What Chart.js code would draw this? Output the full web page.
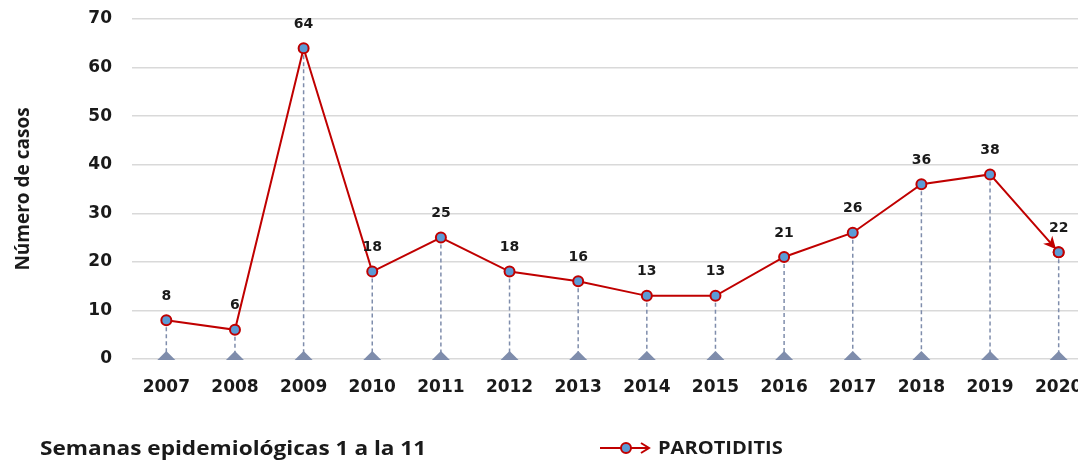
<!DOCTYPE html>
<html lang="es">
<head>
<meta charset="UTF-8">
<title>Parotiditis</title>
<style>
    html, body { margin: 0; padding: 0; background: #fff; overflow: hidden; }
    .wrap { position: relative; width: 1100px; height: 462px; }
    .note {
        position: absolute; left: 40px; top: 435px;
        font-family: "Open Sans", sans-serif; font-weight: bold; font-size: 19px;
        color: #1a1a1a; white-space: nowrap;
        transform: scaleX(1.19); transform-origin: left top;
    }
</style>
</head>
<body>
<div class="wrap">
    <canvas id="chart" width="1100" height="462"></canvas>
    <div class="note">Semanas epidemiológicas 1 a la 11</div>
</div>
<script src="https://cdn.jsdelivr.net/npm/chart.js"></script>
<script>
    const years = ['2007', '2008', '2009', '2010', '2011', '2012', '2013', '2014', '2015', '2016', '2017', '2018', '2019', '2020'];
    const cases = [8, 6, 64, 18, 25, 18, 16, 13, 13, 21, 26, 36, 38, 22];
    const seriesName = 'PAROTIDITIS';

    const red = '#c00000';
    const blue = '#5b9bd5';
    const dropColor = '#7f8dac';

    // drop lines, base markers, value labels, arrow and legend
    const extras = {
        id: 'extras',
        beforeDatasetsDraw(chart) {
            const ctx = chart.ctx;
            const x = chart.scales.x, y = chart.scales.y;
            const base = y.getPixelForValue(0);
            ctx.save();
            ctx.strokeStyle = dropColor;
            ctx.lineWidth = 1.5;
            ctx.setLineDash([4, 3]);
            cases.forEach((v, i) => {
                const px = x.getPixelForValue(i);
                ctx.beginPath();
                ctx.moveTo(px, y.getPixelForValue(v));
                ctx.lineTo(px, base);
                ctx.stroke();
            });
            ctx.setLineDash([]);
            ctx.fillStyle = dropColor;
            cases.forEach((v, i) => {
                const px = x.getPixelForValue(i);
                ctx.beginPath();
                ctx.moveTo(px - 9, base + 1);
                ctx.lineTo(px, base - 8);
                ctx.lineTo(px + 9, base + 1);
                ctx.closePath();
                ctx.fill();
            });
            ctx.restore();
        },
        afterDatasetsDraw(chart) {
            const ctx = chart.ctx;
            const x = chart.scales.x, y = chart.scales.y;
            ctx.save();
            // arrow head into last point
            const n = cases.length;
            const x1 = x.getPixelForValue(n - 2), y1 = y.getPixelForValue(cases[n - 2]);
            const x2 = x.getPixelForValue(n - 1), y2 = y.getPixelForValue(cases[n - 1]);
            const a = Math.atan2(y2 - y1, x2 - x1);
            const tipX = x2 - Math.cos(a) * 4, tipY = y2 - Math.sin(a) * 4;
            ctx.fillStyle = red;
            ctx.beginPath();
            ctx.moveTo(tipX, tipY);
            ctx.lineTo(tipX - Math.cos(a - 0.45) * 14, tipY - Math.sin(a - 0.45) * 14);
            ctx.lineTo(tipX - Math.cos(a) * 9, tipY - Math.sin(a) * 9);
            ctx.lineTo(tipX - Math.cos(a + 0.45) * 14, tipY - Math.sin(a + 0.45) * 14);
            ctx.closePath();
            ctx.fill();
            // redraw last point on top
            ctx.beginPath();
            ctx.arc(x2, y2, 5, 0, Math.PI * 2);
            ctx.fillStyle = blue;
            ctx.fill();
            ctx.lineWidth = 2;
            ctx.strokeStyle = red;
            ctx.stroke();

            // value labels
            ctx.fillStyle = '#1a1a1a';
            ctx.font = 'bold 14px "DejaVu Sans"';
            ctx.textAlign = 'center';
            ctx.textBaseline = 'middle';
            cases.forEach((v, i) => {
                ctx.fillText(String(v), x.getPixelForValue(i), y.getPixelForValue(v) - 24);
            });

            // legend
            const ly = 448;
            ctx.strokeStyle = red;
            ctx.lineWidth = 2;
            ctx.beginPath();
            ctx.moveTo(600, ly);
            ctx.lineTo(648, ly);
            ctx.stroke();
            ctx.beginPath();
            ctx.moveTo(641, ly - 5);
            ctx.lineTo(649, ly);
            ctx.lineTo(641, ly + 5);
            ctx.stroke();
            ctx.beginPath();
            ctx.arc(626, ly, 5, 0, Math.PI * 2);
            ctx.fillStyle = blue;
            ctx.fill();
            ctx.stroke();
            ctx.fillStyle = '#1a1a1a';
            ctx.font = 'bold 17px "Open Sans"';
            ctx.textAlign = 'left';
            ctx.translate(658, ly + 1);
            ctx.scale(1.18, 1);
            ctx.fillText(seriesName, 0, 0);
            ctx.restore();
        }
    };

    new Chart(document.getElementById('chart'), {
        type: 'line',
        data: {
            labels: years,
            datasets: [{
                label: seriesName,
                data: cases,
                borderColor: red,
                borderWidth: 2,
                backgroundColor: blue,
                pointBackgroundColor: blue,
                pointBorderColor: red,
                pointBorderWidth: 2,
                pointRadius: 5,
                tension: 0,
                clip: false
            }]
        },
        options: {
            responsive: false,
            animation: false,
            layout: { padding: { left: 12, top: 19, right: 0, bottom: 63 } },
            plugins: { legend: { display: false }, tooltip: { enabled: false } },
            scales: {
                x: {
                    offset: true,
                    grid: { display: false },
                    border: { display: false },
                    ticks: { color: '#1a1a1a', font: { family: 'DejaVu Sans', weight: 'bold', size: 17 }, maxRotation: 0, autoSkip: false, padding: 10 },
                    afterFit(s) { s.height = 40; s.paddingLeft = 0; s.paddingRight = 0; }
                },
                y: {
                    min: 0, max: 70,
                    ticks: { stepSize: 10, color: '#1a1a1a', font: { family: 'DejaVu Sans', weight: 'bold', size: 17 }, padding: 20 },
                    grid: { color: '#d9d9d9', lineWidth: 1.5, drawTicks: false },
                    border: { display: false },
                    title: { display: true, text: 'Número de casos', color: '#1a1a1a', font: { family: 'Open Sans', weight: 'bold', size: 19 }, padding: 0 },
                    afterFit(s) { s.width = 120; s.paddingTop = 0; s.paddingBottom = 0; }
                }
            }
        },
        plugins: [extras]
    });
</script>
</body>
</html>
